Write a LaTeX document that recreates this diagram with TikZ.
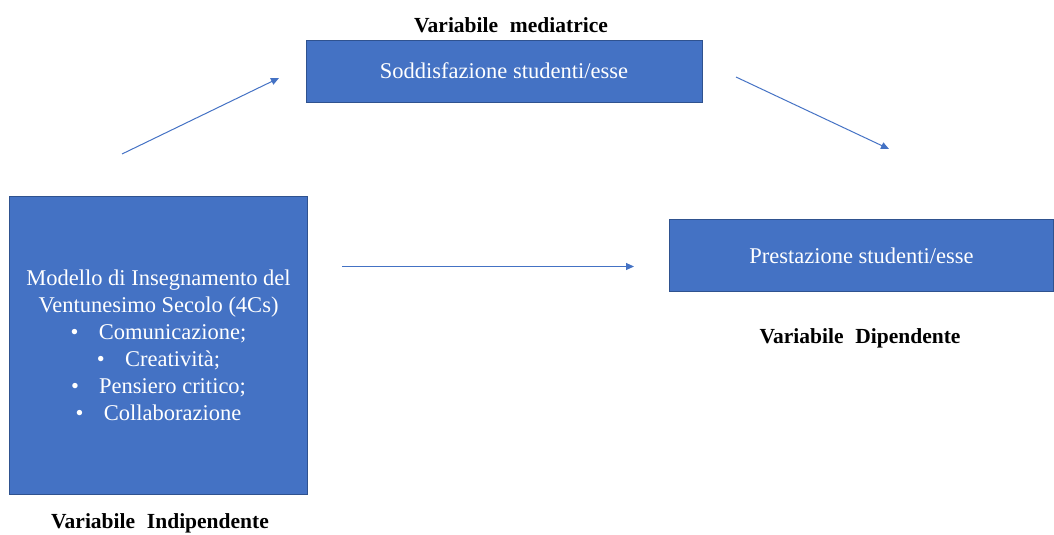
\documentclass[tikz,border=0pt]{standalone}
\usepackage{fontspec}
\setmainfont{Liberation Serif}
\usetikzlibrary{arrows.meta}
\definecolor{boxblue}{HTML}{4472C4}
\definecolor{boxedge}{HTML}{2F528F}
\tikzset{
  varbox/.style={draw=boxedge, line width=0.8pt, fill=boxblue, text=white, align=center,
    inner sep=0pt, font=\fontsize{22.5}{27}\selectfont},
  varlabel/.style={font=\bfseries\fontsize{21.5}{25}\selectfont, text=black, inner sep=0pt},
  link/.style={draw=boxblue, line width=1pt, -{Triangle[length=8pt,width=7pt]}}
}
\begin{document}
\begin{tikzpicture}[x=1pt,y=-1pt]
\useasboundingbox (0,0) rectangle (1054,535);
% boxes
\node[varbox, minimum width=298pt, minimum height=298pt] (indep) at (158.5,345.5)
  {Modello di Insegnamento del\\Ventunesimo Secolo (4Cs)\\
   •\hspace{0.9em}Comunicazione;\\
   •\hspace{0.9em}Creatività;\\
   •\hspace{0.9em}Pensiero critico;\\
   •\hspace{0.9em}Collaborazione};
\node[varbox, minimum width=396pt, minimum height=62pt] (med) at (504,71) {Soddisfazione studenti/esse};
\node[varbox, minimum width=384pt, minimum height=72pt] (dep) at (861.5,255.5) {Prestazione studenti/esse};
% labels
\node[varlabel] (lmed) at (511,25) {Variabile\hspace{0.3em} mediatrice};
\node[varlabel] (ldep) at (860,338) {Variabile\hspace{0.3em} Dipendente};
\node[varlabel] (lind) at (160,523) {Variabile\hspace{0.3em} Indipendente};
% connector end points
\coordinate (a1s) at (122,154);
\coordinate (a1e) at (279,78);
\coordinate (a2s) at (736,77);
\coordinate (a2e) at (889,149);
\coordinate (a3s) at (342,266.5);
\coordinate (a3e) at (634,266.5);
\draw[link] (a1s) -- (a1e);
\draw[link] (a2s) -- (a2e);
\draw[link] (a3s) -- (a3e);
\end{tikzpicture}
\end{document}
